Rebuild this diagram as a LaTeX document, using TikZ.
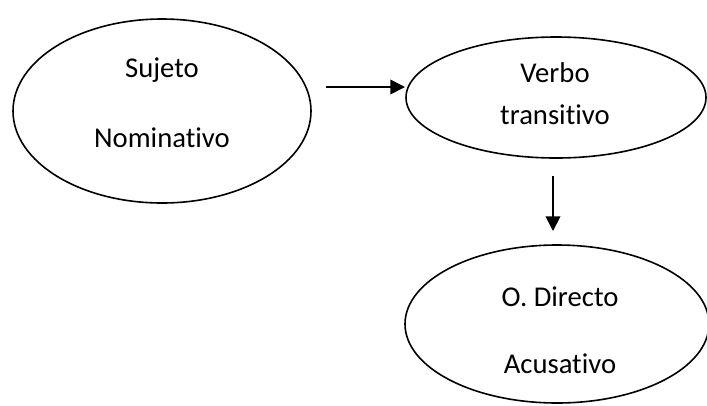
\documentclass[tikz,border=0pt]{standalone}
\usepackage{fontspec}
\setmainfont{Carlito}[Ligatures={NoCommon}]
\usetikzlibrary{shapes.geometric,arrows.meta}
\begin{document}
\begin{tikzpicture}[x=0.75pt,y=-0.75pt,
  bubble/.style={draw=black, line width=1.2pt, ellipse, inner sep=0pt},
  lbl/.style={font=\fontsize{21.5pt}{25pt}\selectfont, text=black, inner sep=0pt, anchor=center},
  conn/.style={line width=1.3pt, -{Triangle[length=11pt,width=11pt]}}]
\useasboundingbox (0,0) rectangle (707,405);
\fill[white] (0,0) rectangle (707,405);
% ellipses
\node[bubble, minimum width=223.5pt, minimum height=138pt] (suj) at (162,111) {};
\node[bubble, minimum width=225pt, minimum height=90.75pt] (verb) at (556,97.5) {};
\node[bubble, minimum width=228pt, minimum height=118.5pt] (od) at (557,324) {};
% texts
\node[lbl] (suj1) at (162,70) {Sujeto};
\node[lbl] (suj2) at (162,138) {Nominativo};
\node[lbl] (verb1) at (555,73) {Verbo};
\node[lbl] (verb2) at (555,115) {transitivo};
\node[lbl] (od1) at (560,297) {O. Directo};
\node[lbl] (od2) at (560,364) {Acusativo};
% connectors
\coordinate (a1s) at (326,87);
\coordinate (a1e) at (405,87);
\coordinate (a2s) at (553,176);
\coordinate (a2e) at (553,231);
\draw[conn] (a1s) -- (a1e);
\draw[conn] (a2s) -- (a2e);
\end{tikzpicture}
\end{document}
